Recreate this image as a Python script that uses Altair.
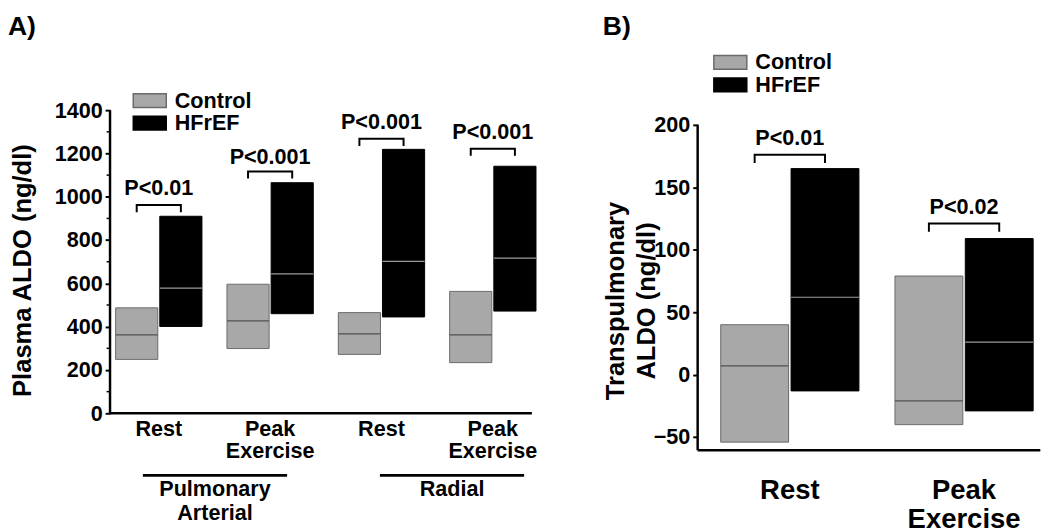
import altair as alt
import pandas as pd

FONT = "Liberation Sans"
groups = ["Control", "HFrEF"]

# ---------------- Panel A data ----------------
a_conditions = ["PA Rest", "PA Peak", "Radial Rest", "Radial Peak"]
a_labels = ["Rest", "Peak\nExercise", "Rest", "Peak\nExercise"]
a_ctrl_low = [249, 299, 272, 234]
a_ctrl_median = [362, 427, 367, 362]
a_ctrl_high = [487, 596, 465, 563]
a_hf_low = [401, 460, 445, 472]
a_hf_median = [578, 644, 702, 717]
a_hf_high = [910, 1065, 1219, 1141]
a_pvalues = ["P<0.01", "P<0.001", "P<0.001", "P<0.001"]
a_bracket_y = [962, 1117, 1268, 1222]
a_ptext_y = [1006, 1151, 1313, 1268]
a_sites = ["Pulmonary\nArterial", "Radial"]
a_ticks = [0, 200, 400, 600, 800, 1000, 1200, 1400]
a_minor_ticks = [100, 300, 500, 700, 900, 1100, 1300]

# ---------------- Panel B data ----------------
b_conditions = ["Rest", "Peak Exercise"]
b_labels = ["Rest", "Peak\nExercise"]
b_ctrl_low = [-54, -40]
b_ctrl_median = [7, -21]
b_ctrl_high = [40, 79]
b_hf_low = [-13, -29]
b_hf_median = [62, 26]
b_hf_high = [165, 109]
b_pvalues = ["P<0.01", "P<0.02"]
b_bracket_y = [176, 121]
b_ptext_y = [184, 129]
b_ticks = [-50, 0, 50, 100, 150, 200]

LEGEND_SYMBOL = "M-2.4,-1H2.4V1H-2.4Z"
H = 515


def build_panel(conds, labels, c_lo, c_md, c_hi, h_lo, h_md, h_hi, pvals, br_y, pt_y,
                leg_drop, ticks, minor, title, ydom, xrange_, pad_in, off_pad, width,
                axis_min, axis_max, cat_y, cat_size, cat_lh, legend_x, legend_y,
                legend_off, letter, letter_x, title_x, title_y, sites=None,
                site_range=None, site_pad=None, site_line_y=None, site_text_y=None):
    rows = []
    for i, c in enumerate(conds):
        rows.append(dict(cond=c, group="Control", low=c_lo[i], med=c_md[i], high=c_hi[i]))
        rows.append(dict(cond=c, group="HFrEF", low=h_lo[i], med=h_md[i], high=h_hi[i]))
    df = pd.DataFrame(rows)

    xenc = alt.X("cond:N", sort=conds,
                 scale=alt.Scale(domain=conds, range=xrange_, paddingInner=pad_in, paddingOuter=0),
                 axis=None)
    xoff = alt.XOffset("group:N", sort=groups,
                       scale=alt.Scale(domain=groups, paddingInner=off_pad, paddingOuter=0))
    yscale = alt.Scale(domain=ydom, nice=False, zero=False)
    yaxis = alt.Axis(values=ticks, format="d", domain=False, grid=False, ticks=True, tickSize=5,
                     tickWidth=2, tickColor="black", labelFont=FONT, labelFontSize=22,
                     labelFontWeight="bold", labelColor="black", labelPadding=3,
                     title=title, titleFont=FONT, titleFontSize=26, titleFontWeight="bold",
                     titleColor="black", titleAngle=270, titleAlign="center",
                     titleBaseline="middle", titleX=title_x, titleY=title_y,
                     titleLineHeight=32)

    def Y(field):
        return alt.Y(field, scale=yscale, axis=yaxis)

    legend = alt.Legend(title=None, orient="none", legendX=legend_x, legendY=legend_y,
                        direction="vertical", symbolType=LEGEND_SYMBOL, symbolSize=196,
                        symbolStrokeWidth=1.5, labelFont=FONT, labelFontSize=22,
                        labelFontWeight="bold", labelColor="black", labelOffset=legend_off,
                        rowPadding=1, padding=0)

    bars = alt.Chart(df).mark_bar(strokeWidth=1).encode(
        x=xenc, xOffset=xoff, y=Y("low:Q"), y2="high:Q",
        fill=alt.Fill("group:N", sort=groups,
                      scale=alt.Scale(domain=groups, range=["#a8a8a8", "#000000"]),
                      legend=legend),
        stroke=alt.Stroke("group:N", sort=groups,
                          scale=alt.Scale(domain=groups, range=["#6a6a6a", "#000000"]),
                          legend=legend),
    )
    medians = alt.Chart(df).mark_bar(fillOpacity=0, strokeWidth=1.2).encode(
        x=xenc, xOffset=xoff, y=Y("med:Q"), y2="med:Q",
        stroke=alt.condition(alt.datum.group == "Control", alt.value("#505050"),
                             alt.value("#9a9a9a")),
    )

    br_rows = []
    for i, c in enumerate(conds):
        top = br_y[i]
        bot = top - leg_drop
        br_rows += [dict(cond=c, group="Control", y=bot, o=0),
                    dict(cond=c, group="Control", y=top, o=1),
                    dict(cond=c, group="HFrEF", y=top, o=2),
                    dict(cond=c, group="HFrEF", y=bot, o=3)]
    brackets = alt.Chart(pd.DataFrame(br_rows)).mark_line(
        color="black", strokeWidth=2, strokeJoin="miter").encode(
        x=xenc, xOffset=xoff, y=Y("y:Q"), order="o:Q", detail="cond:N")

    pdf = pd.DataFrame(dict(cond=conds, p=pvals, py=pt_y))
    ptext = alt.Chart(pdf).mark_text(font=FONT, fontSize=22, fontWeight="bold",
                                     baseline="alphabetic", color="black").encode(
        x=xenc, y=Y("py:Q"), text="p:N")

    ldf = pd.DataFrame(dict(cond=conds, label=labels))
    cats = alt.Chart(ldf).mark_text(font=FONT, fontSize=cat_size, fontWeight="bold",
                                    baseline="alphabetic", lineBreak="\n",
                                    lineHeight=cat_lh, color="black").encode(
        x=xenc, y=alt.value(cat_y), text="label:N")

    yline = alt.Chart(pd.DataFrame(dict(lo=[axis_min], hi=[axis_max]))).mark_rule(
        color="black", strokeWidth=2.5).encode(x=alt.value(0), y=Y("lo:Q"), y2="hi:Q")
    xline = alt.Chart(pd.DataFrame(dict(at=[axis_min]))).mark_rule(
        color="black", strokeWidth=2.7).encode(y=Y("at:Q"), x=alt.value(0),
                                               x2=alt.value(width))
    letter_mark = alt.Chart(pd.DataFrame(dict(t=[letter]))).mark_text(
        font=FONT, fontSize=27, fontWeight="bold", align="left", baseline="alphabetic",
        color="black").encode(x=alt.value(letter_x), y=alt.value(20), text="t:N")

    layers = [bars, medians, brackets, ptext, cats, yline, xline, letter_mark]
    if minor:
        mticks = alt.Chart(pd.DataFrame(dict(v=minor))).mark_rule(
            color="black", strokeWidth=1.5).encode(y=Y("v:Q"), x=alt.value(-3.5),
                                                   x2=alt.value(0))
        layers.append(mticks)
    main = alt.layer(*layers)

    if sites:
        sdf = pd.DataFrame(dict(site=sites))
        sx = alt.X("site:N", sort=sites,
                   scale=alt.Scale(domain=sites, range=site_range, paddingInner=site_pad,
                                   paddingOuter=0), axis=None)
        site_lines = alt.Chart(sdf).mark_bar(color="black").encode(
            x=sx, y=alt.value(site_line_y - 1.4), y2=alt.value(site_line_y + 1.4))
        site_text = alt.Chart(sdf).mark_text(font=FONT, fontSize=22, fontWeight="bold",
                                             baseline="alphabetic", lineBreak="\n",
                                             lineHeight=25, color="black").encode(
            x=sx, y=alt.value(site_text_y), text="site:N")
        panel = alt.layer(main, alt.layer(site_lines, site_text)).resolve_scale(x="independent")
    else:
        panel = main
    return panel.properties(width=width, height=H)


# pixel anchors (page coords), used for scale domains
ka = (414 - 105) / 1400.0
a_dom = [-(523 - 414) / ka, 1400 + (105 - 8) / ka]
kb = (438.3 - 120) / 250.0
b_dom = [-50 - (523 - 438.3) / kb, 200 + (120 - 8) / kb]

panel_a = build_panel(
    a_conditions, a_labels, a_ctrl_low, a_ctrl_median, a_ctrl_high, a_hf_low, a_hf_median,
    a_hf_high, a_pvalues, a_bracket_y, a_ptext_y, 33, a_ticks, a_minor_ticks,
    "Plasma ALDO (ng/dl)", a_dom, [5.7, 434.2], 0.2247, 0.045, 430,
    0, 1400, 429, 22, 23, 29.5, 76.3, 14.5, "A)", -104, -89.3, 260,
    sites=a_sites, site_range=[33.5, 422.1], site_pad=0.3916, site_line_y=469.3,
    site_text_y=490)

panel_b = build_panel(
    b_conditions, b_labels, b_ctrl_low, b_ctrl_median, b_ctrl_high, b_hf_low, b_hf_median,
    b_hf_high, b_pvalues, b_bracket_y, b_ptext_y, 6.5, b_ticks, None,
    ["Transpulmonary", "ALDO (ng/dl)"], b_dom, [23.5, 342], 0.2068, 0.035, 349.3,
    -60.5, 200, 493, 28, 30, 22.3, 37.3, 14.5, "B)", -96.7, -83.7, 291)

chart = alt.hconcat(panel_a, panel_b, spacing=66).resolve_scale(
    fill="independent", stroke="independent", xOffset="independent").resolve_legend(
    fill="independent", stroke="independent").properties(
    padding=0, background="white").configure_view(stroke=None).configure_axis(
    labelFont=FONT, labelFontWeight="bold", labelFontSize=22, labelColor="black")

chart.save("out.html", embed_options={"renderer": "svg", "actions": False})
